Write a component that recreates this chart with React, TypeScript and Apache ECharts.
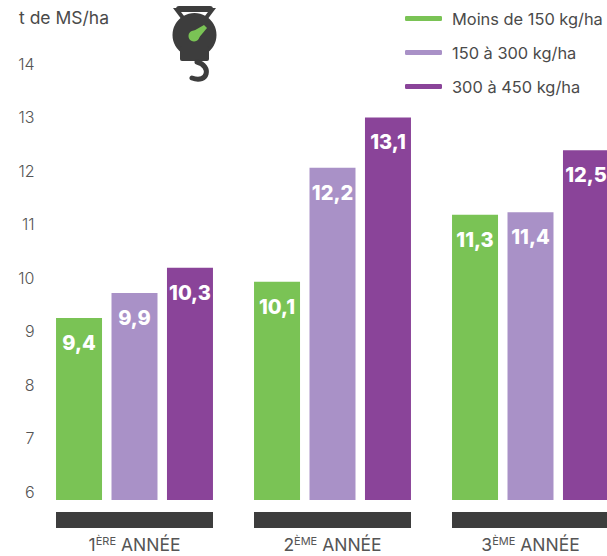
import React, { useEffect, useRef } from "react";
import * as echarts from "echarts";

const categories = ["1|ÈRE", "2|ÈME", "3|ÈME"];
const seriesNames = ["Moins de 150 kg/ha", "150 à 300 kg/ha", "300 à 450 kg/ha"];
const colors = ["#7AC355", "#A991C7", "#8A4499"];
// Bar heights read against the axis of the picture
const lowHeights = [9.25, 9.93, 11.18];
const midHeights = [9.72, 12.06, 11.23];
const highHeights = [10.19, 13.0, 12.39];
// Values printed on the bars
const lowLabels = ["9,4", "10,1", "11,3"];
const midLabels = ["9,9", "12,2", "11,4"];
const highLabels = ["10,3", "13,1", "12,5"];
const yTicks = [6, 7, 8, 9, 10, 11, 12, 13, 14];

const FONT = "Inter, 'Noto Sans', sans-serif";
const DARK = "#3D3D3D";

function makeSeries(i: number, values: number[], labels: string[]) {
  return {
    name: seriesNames[i],
    type: "bar",
    data: values,
    barWidth: 46,
    barGap: "20.6%",
    itemStyle: { color: colors[i] },
    label: {
      show: true,
      position: "insideTop",
      distance: 15,
      color: "#fff",
      fontFamily: FONT,
      fontWeight: 800,
      fontSize: 20,
      formatter: (p: any) => labels[p.dataIndex],
    },
  };
}

export default function App() {
  const ref = useRef<HTMLDivElement>(null);
  useEffect(() => {
    const chart = echarts.init(ref.current!, undefined, { renderer: "svg" });
    chart.setOption({
      animation: false,
      backgroundColor: "#fff",
      grid: { left: 35.5, top: 64, right: -22.5, bottom: 56, outerBoundsMode: "none" },
      title: {
        text: "t de MS/ha",
        left: 14,
        top: 3,
        textStyle: { color: "#4A4A4A", fontFamily: FONT, fontWeight: 400, fontSize: 17.5 },
      },
      legend: {
        orient: "vertical",
        left: 400,
        top: 5,
        itemWidth: 37,
        itemHeight: 5,
        itemGap: 17,
        icon: "roundRect",
        textStyle: {
          color: "#4A4A4A",
          fontFamily: FONT,
          fontWeight: 400,
          fontSize: 16.4,
          lineHeight: 17,
          padding: [0, 0, 0, 5],
        },
        data: seriesNames,
      },
      xAxis: {
        type: "category",
        data: categories,
        axisLine: { show: false },
        axisTick: { show: false },
        axisLabel: {
          margin: 35,
          interval: 0,
          formatter: (v: string) => {
            const [n, s] = v.split("|");
            return `{a|${n}}{b|${s}}{a| ANNÉE}`;
          },
          rich: {
            a: { fontFamily: FONT, fontSize: 17.5, color: "#555", fontWeight: 400, verticalAlign: "bottom", lineHeight: 18 },
            b: { fontFamily: FONT, fontSize: 11, color: "#555", fontWeight: 400, verticalAlign: "top", lineHeight: 18 },
          },
        },
      },
      yAxis: {
        type: "value",
        min: 5.85,
        max: 14,
        axisLine: { show: false },
        splitLine: { show: false },
        axisTick: { show: false, customValues: yTicks },
        axisLabel: {
          customValues: yTicks,
          margin: 1,
          color: "#555",
          fontFamily: FONT,
          fontWeight: 300,
          fontSize: 16,
          padding: [3, 0, 0, 0],
        },
      },
      series: [
        makeSeries(0, lowHeights, lowLabels),
        makeSeries(1, midHeights, midLabels),
        makeSeries(2, highHeights, highLabels),
      ],
      graphic: [
        { type: "rect", shape: { x: 56, y: 512, width: 157, height: 16 }, style: { fill: DARK } },
        { type: "rect", shape: { x: 254, y: 512, width: 157, height: 16 }, style: { fill: DARK } },
        { type: "rect", shape: { x: 452, y: 512, width: 155, height: 16 }, style: { fill: DARK } },
        // Scale icon
        { type: "rect", shape: { x: 176, y: 6, width: 37, height: 6, r: 3 }, style: { fill: DARK } },
        {
          type: "polygon",
          shape: { points: [[177, 10], [212, 10], [203, 22], [186, 22]] },
          style: { fill: "none", stroke: DARK, lineWidth: 4 },
        },
        { type: "circle", shape: { cx: 194.5, cy: 35, r: 22 }, style: { fill: DARK } },
        { type: "rect", shape: { x: 180, y: 46, width: 29, height: 15, r: 2 }, style: { fill: DARK } },
        {
          type: "bezierCurve",
          shape: { x1: 197, y1: 62, x2: 192, y2: 78, cpx1: 212, cpy1: 66, cpx2: 208, cpy2: 84 },
          style: { fill: "none", stroke: DARK, lineWidth: 5, lineCap: "round" },
        },
        { type: "circle", shape: { cx: 194, cy: 36, r: 5.5 }, style: { fill: "#7AC355" } },
        { type: "polygon", shape: { points: [[190, 33], [204, 25], [207, 28], [197, 40]] }, style: { fill: "#7AC355" } },
      ],
    });
    return () => chart.dispose();
  }, []);
  return <div ref={ref} style={{ position: "absolute", left: 0, top: 0, width: 607, height: 556 }} />;
}
